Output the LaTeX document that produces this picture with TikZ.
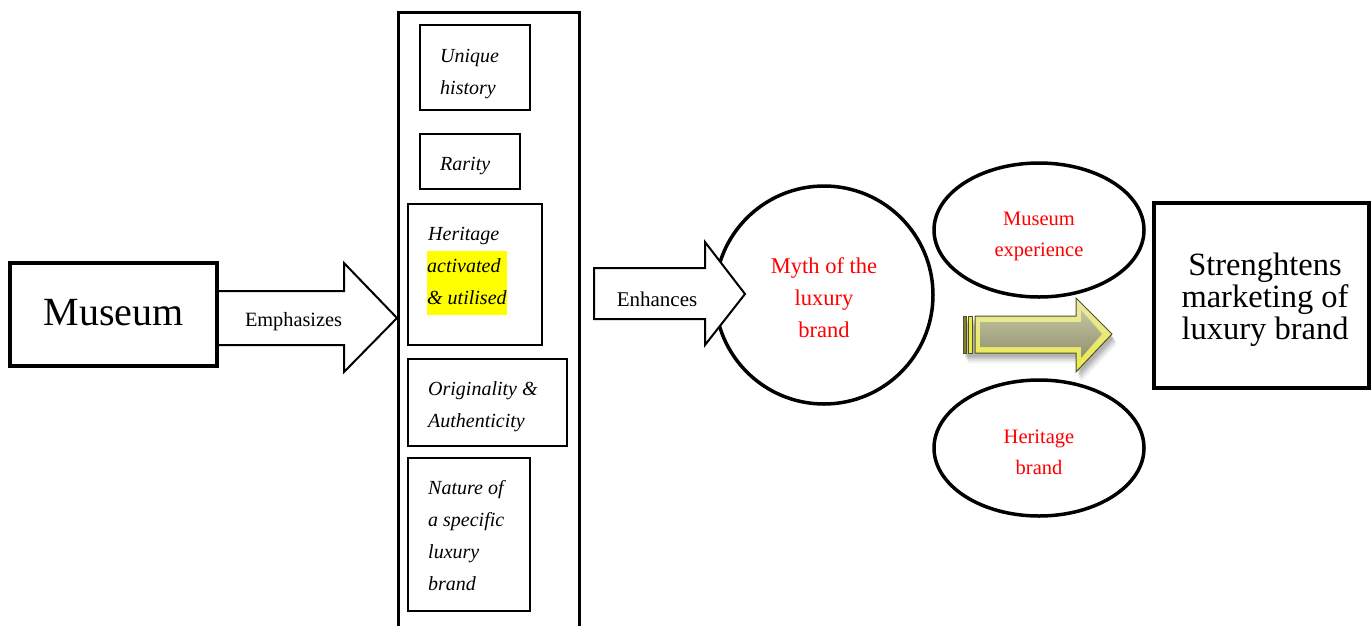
\documentclass[tikz,border=0pt]{standalone}
\usepackage{fontspec}
\setmainfont{Liberation Serif}
\usetikzlibrary{shapes.geometric}

\definecolor{hilite}{RGB}{255,255,0}
\definecolor{redtext}{RGB}{255,0,0}
\definecolor{olivedark}{RGB}{80,80,40}
\definecolor{bevelyel}{RGB}{235,235,70}
\definecolor{bevellight}{RGB}{232,232,170}
\definecolor{facetop}{RGB}{196,196,160}
\definecolor{facebot}{RGB}{145,145,112}

% yellow marker behind a line of italic text
\newcommand\marked[1]{{\setlength\fboxsep{0pt}\colorbox{hilite}{\rule[-10pt]{0pt}{32pt}\makebox[80pt][l]{#1}}}}

\tikzset{
  bigbox/.style={draw, line width=4pt, fill=white, inner sep=0pt},
  bigtext/.style={inner sep=0pt, align=center},
  itembox/.style={draw, line width=1.6pt, anchor=north west, inner sep=0pt},
  itemtext/.style={anchor=west, inner sep=0pt, align=left,
    font=\itshape\fontsize{20}{32}\selectfont},
  blockarrow/.style={draw, line width=2pt, fill=white, line join=miter},
  bubble/.style={draw, line width=3.5pt, inner sep=0pt},
  bubbletext/.style={inner sep=0pt, align=center, text=redtext,
    font=\fontsize{20.5}{31}\selectfont},
  arrowlabel/.style={inner sep=0pt},
}

\begin{document}
\begin{tikzpicture}[x=1pt,y=-1pt]
\useasboundingbox (0,0) rectangle (1371,625);
\fill[white] (0,0) rectangle (1371,625);

% column holding the brand qualities (open at the bottom edge)
\draw[line width=3pt, line join=miter] (398,640) -- (398,12) -- (579,12) -- (579,640);

% "Emphasizes" block arrow
\draw[blockarrow] (217,291) -- (344,291) -- (344,263) -- (397,318) -- (344,372)
  -- (344,345) -- (217,345) -- cycle;
\node[arrowlabel, font=\fontsize{20.3}{24}\selectfont] (emph) at (293.5,322) {Emphasizes};

% Museum box
\node[bigbox, minimum width=207pt, minimum height=103pt] (museum) at (113.5,314.5) {};
\node[bigtext, font=\fontsize{40}{44}\selectfont] (museumt) at (113.5,312.5) {Museum};

% qualities
\node[itembox, minimum width=110pt, minimum height=85pt] (unique) at (419,24) {};
\node[itemtext] (uniquet) at ([xshift=21pt,yshift=-7pt]unique.west) {Unique\\history};

\node[itembox, minimum width=100pt, minimum height=55pt] (rarity) at (419,133) {};
\node[itemtext] (rarityt) at ([xshift=21pt,yshift=-5pt]rarity.west) {Rarity};

\node[itembox, minimum width=134pt, minimum height=141pt] (heritage) at (407,203) {};
\node[itemtext] (heritaget) at ([xshift=21pt,yshift=3pt]heritage.west)
  {Heritage\\\hspace*{-1pt}\marked{activated}\\\hspace*{-1pt}\marked{\& utilised}};

\node[itembox, minimum width=159pt, minimum height=87pt] (orig) at (407,358) {};
\node[itemtext] (origt) at ([xshift=21pt,yshift=-4pt]orig.west) {Originality \&\\Authenticity};

\node[itembox, minimum width=122pt, minimum height=153pt] (nature) at (407,457) {};
\node[itemtext] (naturet) at ([xshift=21pt,yshift=-1pt]nature.west)
  {Nature of\\a specific\\luxury\\brand};

% myth of the luxury brand
\node[bubble, circle, minimum size=218pt] (myth) at (824,295) {};
\node[bubbletext, font=\fontsize{22.5}{32}\selectfont] (mytht) at (824,298)
  {Myth of the\\luxury\\brand};

% "Enhances" block arrow, over the circle
\draw[blockarrow] (594,268) -- (705,268) -- (705,242) -- (745,294) -- (705,345)
  -- (705,319) -- (594,319) -- cycle;
\node[arrowlabel, font=\fontsize{21}{24}\selectfont] (enh) at (657,299) {Enhances};

% supporting ellipses
\node[bubble, ellipse, minimum width=210pt, minimum height=134pt] (exper) at (1039,230) {};
\node[bubbletext] (expert) at (1039,236) {Museum\\experience};
\node[bubble, ellipse, minimum width=210pt, minimum height=136pt] (herbrand) at (1039,448) {};
\node[bubbletext] (herbrandt) at (1039,452) {Heritage\\brand};

% bevelled yellow arrow with soft shadow
\foreach \o/\a in {10/0.05,8/0.07,6/0.09,4/0.11}{
  \fill[black, opacity=\a, shift={(\o*0.5,\o)}]
    (963,316) -- (1076,316) -- (1076,298) -- (1112,334) -- (1076,372)
    -- (1076,353) -- (963,353) -- cycle;
}
\shade[top color=bevellight, bottom color=bevelyel, draw=olivedark, line width=1pt]
  (975,316) -- (1076,316) -- (1076,298) -- (1112,334) -- (1076,372)
  -- (1076,353) -- (975,353) -- cycle;
\shade[top color=facetop, bottom color=facebot]
  (980,322) -- (1081,322) -- (1081,310) -- (1102,334) -- (1081,358)
  -- (1081,347) -- (980,347) -- cycle;
\filldraw[fill=olivedark!70!bevelyel, draw=olivedark, line width=0.8pt] (963,316) rectangle (966.5,353);
\filldraw[fill=bevelyel, draw=olivedark, line width=0.8pt] (968.5,316) rectangle (972,353);

% conclusion box
\node[bigbox, minimum width=215pt, minimum height=185pt] (strong) at (1261.5,295.5) {};
\node[bigtext, font=\fontsize{32.5}{32}\selectfont] (strongt) at (1265,299.5)
  {Strenghtens\\marketing of\\luxury brand};
\end{tikzpicture}
\end{document}
